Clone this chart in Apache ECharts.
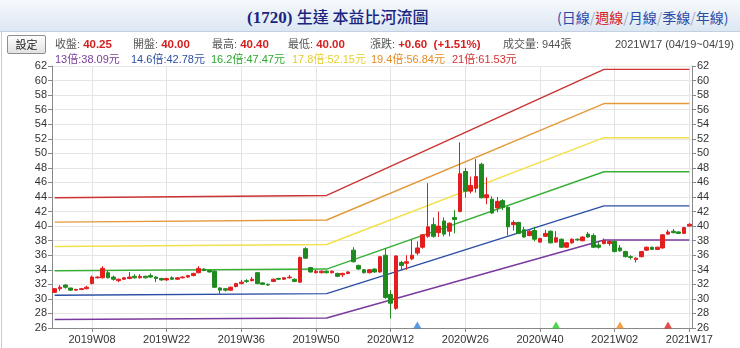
<!DOCTYPE html>
<html><head><meta charset="utf-8">
<script src="https://cdn.jsdelivr.net/npm/echarts@6/dist/echarts.min.js"></script>
<style>
html,body{margin:0;padding:0;background:#fff;}
body{width:740px;height:348px;position:relative;overflow:hidden;font-family:"Liberation Sans",Arial,"Noto Sans CJK TC",sans-serif;}
#chart{position:absolute;left:0;top:0;width:740px;height:348px;}
#hdr{position:absolute;left:0;top:0;width:740px;height:31px;background:linear-gradient(#f6f9fc,#dce7f3);border-bottom:1px solid #c3d0e0;}
.t{position:absolute;white-space:nowrap;font-size:11px;color:#555;line-height:14px;}
.v{color:#d42020;font-weight:bold;font-size:11.5px;}
#title{position:absolute;left:247px;top:6px;font-size:16px;line-height:20px;color:#1a2580;white-space:nowrap;}
#title b{font-family:"Liberation Serif","Times New Roman",serif;font-weight:bold;font-size:17px;}
#title span{font-family:"Noto Sans CJK TC",sans-serif;font-weight:500;}
#nav{position:absolute;left:557px;top:7px;font-size:14px;line-height:20px;color:#2a4aa8;white-space:nowrap;font-family:"Noto Sans CJK TC",sans-serif;}
#nav i{font-style:normal;color:#aab;}
#nav em{font-style:normal;color:#d42020;}
#btn{position:absolute;left:7px;top:35px;width:37px;height:17px;border:1px solid #8e8e8e;border-radius:2px;background:linear-gradient(#fdfdfd,#e2e2e2);font-size:11px;line-height:17px;text-align:center;color:#222;font-family:"Noto Sans CJK TC",sans-serif;}
#lframe{position:absolute;left:1px;top:31px;width:1px;height:317px;background:#ccc;}
</style></head>
<body>
<div id="chart"></div>
<div id="hdr"></div>
<div id="lframe"></div>
<div id="title"><b>(1720)</b> <span>生達 本益比河流圖</span></div>
<div id="nav">(日線<i>/</i><em>週線</em><i>/</i>月線<i>/</i>季線<i>/</i>年線)</div>
<div id="btn">設定</div>
<div class="t" style="left:55px;top:37px">收盤: <span class="v">40.25</span></div>
<div class="t" style="left:133px;top:37px">開盤: <span class="v">40.00</span></div>
<div class="t" style="left:212px;top:37px">最高: <span class="v">40.40</span></div>
<div class="t" style="left:288px;top:37px">最低: <span class="v">40.00</span></div>
<div class="t" style="left:370px;top:37px">漲跌: <span class="v">+0.60 &nbsp;(+1.51%)</span></div>
<div class="t" style="left:503px;top:37px">成交量: 944張</div>
<div class="t" style="left:615px;top:37px;color:#444">2021W17 (04/19~04/19)</div>
<div class="t" style="left:55px;top:52px;color:#7a3c9c">13倍:38.09元</div>
<div class="t" style="left:131px;top:52px;color:#2d4fa3">14.6倍:42.78元</div>
<div class="t" style="left:211px;top:52px;color:#2aa82a">16.2倍:47.47元</div>
<div class="t" style="left:292px;top:52px;color:#e6d02a">17.8倍:52.15元</div>
<div class="t" style="left:371px;top:52px;color:#e48a24">19.4倍:56.84元</div>
<div class="t" style="left:452px;top:52px;color:#d23030">21倍:61.53元</div>
<script>
var weeks = [
'2019W01','2019W02','2019W03','2019W04','2019W05','2019W06','2019W07','2019W08','2019W09','2019W10',
'2019W11','2019W12','2019W13','2019W14','2019W15','2019W16','2019W17','2019W18','2019W19','2019W20',
'2019W21','2019W22','2019W23','2019W24','2019W25','2019W26','2019W27','2019W28','2019W29','2019W30',
'2019W31','2019W32','2019W33','2019W34','2019W35','2019W36','2019W37','2019W38','2019W39','2019W40',
'2019W41','2019W42','2019W43','2019W44','2019W45','2019W46','2019W47','2019W48','2019W49','2019W50',
'2019W51','2019W52',
'2020W01','2020W02','2020W03','2020W04','2020W05','2020W06','2020W07','2020W08','2020W09','2020W10',
'2020W11','2020W12','2020W13','2020W14','2020W15','2020W16','2020W17','2020W18','2020W19','2020W20',
'2020W21','2020W22','2020W23','2020W24','2020W25','2020W26','2020W27','2020W28','2020W29','2020W30',
'2020W31','2020W32','2020W33','2020W34','2020W35','2020W36','2020W37','2020W38','2020W39','2020W40',
'2020W41','2020W42','2020W43','2020W44','2020W45','2020W46','2020W47','2020W48','2020W49','2020W50',
'2020W51','2020W52',
'2021W01','2021W02','2021W03','2021W04','2021W05','2021W06','2021W08','2021W09','2021W10','2021W11',
'2021W12','2021W13','2021W14','2021W15','2021W16','2021W17'
];
var xLabels = ['2019W08','2019W22','2019W36','2019W50','2020W12','2020W26','2020W40','2021W02','2021W17'];
var yTicks = [26,28,30,32,34,36,38,40,42,44,46,48,50,52,54,56,58,60,62];

// [open, close, low, high]
var ohlc = [
[30.9,31.4,30.8,31.5],[31.4,31.6,31.1,31.9],[31.9,31.6,31.4,32.0],[31.5,31.2,31.1,31.5],[31.2,31.3,31.1,31.4],
[31.3,31.4,31.2,31.5],[31.4,31.6,31.3,31.8],[32.1,33.0,32.0,33.2],[32.9,33.0,32.8,33.1],[32.9,34.2,32.8,34.5],
[33.6,32.9,32.8,33.9],[33.0,32.7,32.5,33.2],[32.5,32.7,32.3,32.8],[32.7,32.9,32.6,33.0],[32.8,33.0,32.7,33.7],
[33.1,32.9,32.8,33.4],[32.9,33.1,32.8,33.4],[33.1,32.9,32.8,33.2],[33.2,33.0,32.9,33.5],[33.0,32.8,32.3,33.1],
[32.8,32.6,32.5,32.9],[32.6,32.8,32.5,32.9],[32.9,32.7,32.6,33.1],[32.7,32.9,32.6,33.0],[32.9,33.0,32.8,33.1],
[33.0,33.2,32.9,33.3],[33.2,33.5,33.1,33.6],[33.6,34.2,33.5,34.5],[34.1,33.9,33.8,34.2],[33.9,33.7,33.6,34.0],
[33.8,31.6,31.5,34.0],[31.5,31.2,30.6,31.6],[31.4,31.2,31.0,31.5],[31.2,31.6,31.1,31.7],[31.7,32.1,31.6,32.2],
[32.1,32.3,32.0,32.6],[32.5,32.4,32.2,32.7],[32.5,32.7,32.4,33.0],[33.6,32.1,32.0,33.7],[32.2,32.0,31.9,32.3],
[32.0,31.9,31.8,32.1],[32.4,32.7,32.3,32.8],[32.8,32.7,32.6,32.9],[32.7,32.9,32.6,33.0],[32.9,33.0,32.8,33.3],
[32.7,32.4,32.3,32.8],[32.3,35.7,32.2,35.8],[36.9,35.6,35.5,37.1],[34.3,33.7,33.6,34.4],[33.6,33.8,33.5,34.0],
[33.6,33.8,33.5,33.9],[33.8,33.6,33.5,33.9],[33.6,33.8,33.5,33.9],[33.5,33.1,33.0,33.6],[33.3,33.5,33.0,33.6],
[33.5,33.7,33.4,33.8],[36.7,35.1,35.0,37.1],[34.6,34.1,34.0,34.7],[34.0,33.6,33.5,34.1],[33.6,34.0,33.5,34.1],
[34.1,33.7,33.6,34.2],[33.7,35.8,33.6,35.9],[36.0,30.2,30.0,36.9],[30.6,29.4,27.3,31.2],[28.7,35.9,28.5,36.0],
[35.0,34.6,33.9,35.2],[34.9,35.1,34.0,36.0],[35.5,36.0,35.3,38.1],[36.3,37.0,36.0,37.9],[37.1,38.8,36.9,38.9],
[38.6,39.9,38.4,45.9],[40.2,38.6,38.4,41.2],[39.1,40.0,38.5,42.0],[40.7,38.9,38.6,41.2],[39.3,40.4,38.6,40.5],
[41.2,40.9,39.0,42.2],[42.0,47.2,41.9,51.5],[47.5,44.8,43.9,48.0],[44.8,45.6,44.5,46.8],[45.2,46.8,44.6,49.2],
[48.5,43.9,43.8,48.7],[43.9,44.3,43.0,46.7],[43.7,41.8,41.7,44.1],[42.5,43.4,41.9,44.0],[43.5,42.6,42.2,43.7],
[42.6,39.9,38.7,42.7],[40.2,40.5,39.4,40.8],[40.5,39.0,38.9,40.6],[39.5,38.5,38.4,39.9],[38.7,39.3,38.6,39.6],
[39.4,38.2,37.9,39.9],[37.8,38.3,37.7,38.4],[38.6,39.0,38.5,39.5],[39.3,37.7,37.6,39.4],[37.8,38.4,37.7,39.3],
[38.2,37.1,37.0,38.3],[37.1,37.7,37.0,37.8],[37.7,38.2,37.6,38.3],[38.2,38.1,38.0,38.3],[38.0,38.5,37.9,38.6],
[38.9,38.5,38.4,39.2],[38.7,37.1,37.0,39.0],[37.4,37.1,36.9,37.8],[37.6,38.0,37.5,38.3],[37.6,37.9,37.3,38.1],
[37.9,36.5,36.4,38.0],[37.0,36.6,36.5,37.4],[36.5,35.8,35.7,36.6],[35.8,35.7,35.4,36.0],[35.4,35.6,35.0,35.7],
[35.8,36.5,35.7,36.6],[36.7,37.1,36.6,37.2],[37.1,36.8,36.7,37.2],[36.8,37.1,36.7,37.2],[37.0,38.8,36.9,38.9],
[38.9,39.2,38.8,39.5],[39.3,39.1,39.0,39.6],[39.2,39.0,38.9,39.3],[39.0,39.8,38.9,39.9],[40.0,40.25,40.0,40.4]
];

// river band vertices: [week, price]
var pe13   = [['2019W01',27.17],['2019W52',27.37],['2020W52',38.09],['2021W17',38.09]];
var pe146  = [['2019W01',30.51],['2019W52',30.73],['2020W52',42.78],['2021W17',42.78]];
var pe162  = [['2019W01',33.86],['2019W52',34.10],['2020W52',47.47],['2021W17',47.47]];
var pe178  = [['2019W01',37.20],['2019W52',37.47],['2020W52',52.15],['2021W17',52.15]];
var pe194  = [['2019W01',40.55],['2019W52',40.84],['2020W52',56.84],['2021W17',56.84]];
var pe21   = [['2019W01',43.89],['2019W52',44.21],['2020W52',61.53],['2021W17',61.53]];

// event markers at the bottom of the plot
var markerWeeks  = ['2020W17','2020W43','2021W03','2021W13'];
var markerColors = ['#2f7fe0','#22cc22','#f08a1c','#e02020'];

var chart = echarts.init(document.getElementById('chart'));
var axisFont = {fontFamily:'Liberation Sans, Arial, sans-serif', fontSize:11, color:'#333'};
function lab(v){ return xLabels.indexOf(weeks[v]) >= 0; }
function line(d, c, w){
  return {type:'line', data:d, symbol:'none', lineStyle:{color:c, width:w||1.4}, z:1, silent:true, animation:false};
}
var series = [
  line(pe13,'#7b3b9e',1.6), line(pe146,'#2a4ea6'), line(pe162,'#38b038'),
  line(pe178,'#f2e04c'), line(pe194,'#e49a3c'), line(pe21,'#cc3333'),
  {type:'candlestick', data:ohlc, barWidth:4, z:3, animation:false,
   itemStyle:{color:'#e31e1e', color0:'#1f8a1f', borderColor:'#e31e1e', borderColor0:'#1f8a1f', borderWidth:1}},
  {type:'scatter', data:markerWeeks.map(function(w,i){return {value:[w,26.4], itemStyle:{color:markerColors[i]}};}),
   symbol:'triangle', symbolSize:[8,7], z:5, clip:false, animation:false}
];
chart.setOption({
  animation:false,
  grid:{left:52, right:48, top:66, bottom:20},
  xAxis:{type:'category', data:weeks, boundaryGap:true,
    axisLine:{lineStyle:{color:'#888'}},
    axisTick:{show:true, alignWithLabel:true, interval:lab, length:4, lineStyle:{color:'#888'}},
    axisLabel:Object.assign({interval:lab, margin:6, showMaxLabel:true}, axisFont),
    splitLine:{show:true, alignWithLabel:true, interval:lab, lineStyle:{color:'#e4e4e4'}}},
  yAxis:[
    {type:'value', min:yTicks[0], max:yTicks[yTicks.length-1], interval:2, position:'left',
     axisLine:{show:true, lineStyle:{color:'#888'}}, axisTick:{show:true, length:4, lineStyle:{color:'#888'}},
     axisLabel:Object.assign({margin:5}, axisFont), splitLine:{show:true, lineStyle:{color:'#e6e6e6'}}},
    {type:'value', min:yTicks[0], max:yTicks[yTicks.length-1], interval:2, position:'right',
     axisLine:{show:true, lineStyle:{color:'#888'}}, axisTick:{show:true, length:4, lineStyle:{color:'#888'}},
     axisLabel:Object.assign({margin:5}, axisFont), splitLine:{show:false}}
  ],
  series:series
});
</script>
</body></html>
